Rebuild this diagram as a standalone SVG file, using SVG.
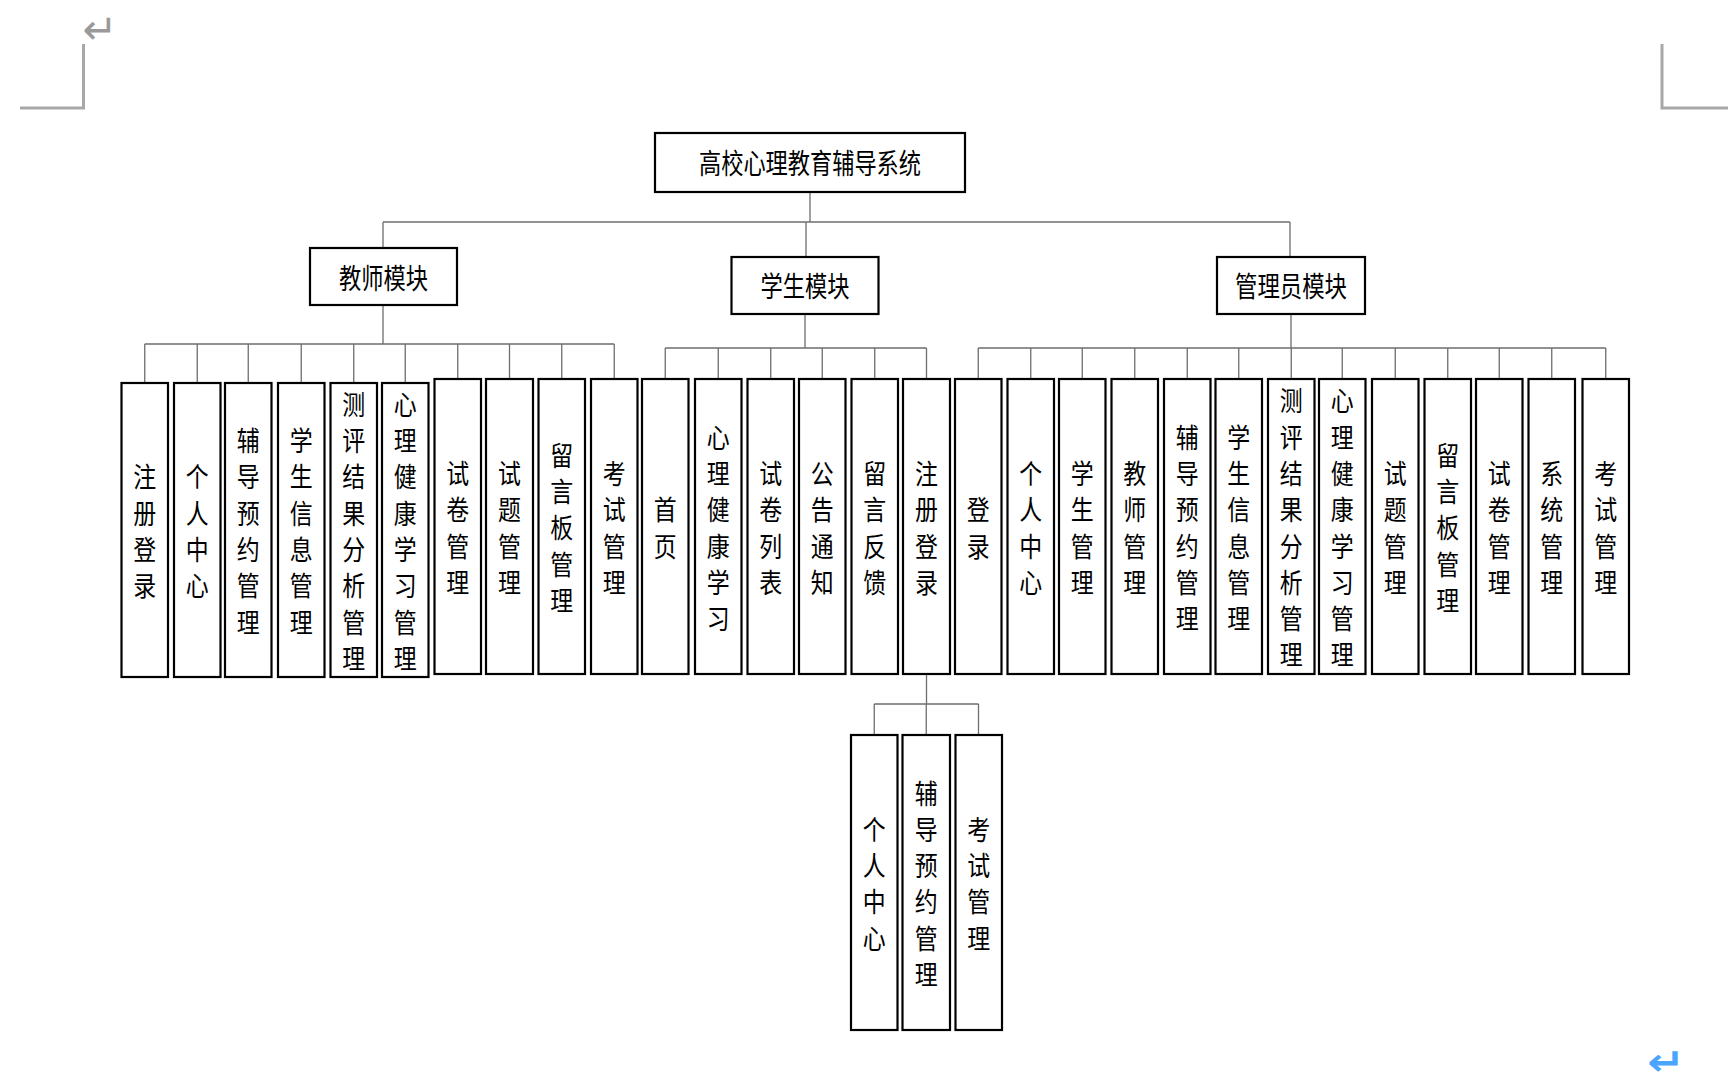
<svg xmlns="http://www.w3.org/2000/svg" width="1728" height="1084" viewBox="0 0 1728 1084">
<style>
.box{fill:#fff;stroke:#000;stroke-width:2.2}
.h{font-family:"Noto Sans CJK SC","Noto Sans CJK TC",sans-serif;font-size:28px;text-anchor:middle;dominant-baseline:central;fill:#000}
.v{font-family:"Noto Sans CJK SC","Noto Sans CJK TC",sans-serif;font-size:27px;text-anchor:middle;dominant-baseline:central;fill:#000}
.ln{fill:none;stroke:#6e6e6e;stroke-width:1.3}
.mark{fill:none;stroke:#a8a8a8;stroke-width:3}
</style>
<rect width="1728" height="1084" fill="#fff"/>
<g id="page-marks">
<path class="mark" d="M83.5 44V108H20"/>
<path class="mark" d="M1662 44V108H1728"/>
<text x="100" y="29.5" font-family="DejaVu Sans, sans-serif" font-size="42" fill="#9a9a9a" text-anchor="middle" dominant-baseline="central">↵</text>
<g transform="translate(1666 1062) scale(1.25 1.05)"><text x="0" y="0" font-family="DejaVu Sans, sans-serif" font-size="36" font-weight="bold" fill="#4aa5ff" text-anchor="middle" dominant-baseline="central">↵</text></g>
</g>
<g id="connectors">
<path class="ln" d="M810 192V222M383 222H1290M383 222V248M806 222V257M1290 222V257"/>
<path class="ln" d="M383 305V344M144.75 344H614.25M144.75 344V383M197.25 344V383M248.25 344V383M301.25 344V383M353.75 344V383M405.25 344V383M457.75 344V379M509.5 344V379M561.75 344V379M614.25 344V379"/>
<path class="ln" d="M805 314V348M665.25 348H926.5M665.25 348V379M718.25 348V379M770.75 348V379M822.25 348V379M874.75 348V379M926.5 348V379"/>
<path class="ln" d="M1291 314V348M978.25 348H1605.75M978.25 348V379M1030.75 348V379M1082.25 348V379M1134.75 348V379M1187.25 348V379M1238.75 348V379M1291.25 348V379M1342.25 348V379M1395.25 348V379M1447.75 348V379M1499.25 348V379M1551.75 348V379M1605.75 348V379"/>
<path class="ln" d="M926.5 674V704M874.25 704H978.5M874.25 704V735M926.25 704V735M978.5 704V735"/>
</g>
<g id="root"><rect class="box" x="655" y="133" width="310" height="59"/><text class="h" x="810" y="162" textLength="222" lengthAdjust="spacingAndGlyphs">高校心理教育辅导系统</text></g>
<g id="teacher"><rect class="box" x="310" y="248" width="147" height="57"/><text class="h" x="383.5" y="276.5" textLength="89" lengthAdjust="spacingAndGlyphs">教师模块</text></g>
<g id="student"><rect class="box" x="731.5" y="257" width="147" height="57"/><text class="h" x="805" y="285" textLength="89" lengthAdjust="spacingAndGlyphs">学生模块</text></g>
<g id="admin"><rect class="box" x="1217" y="257" width="148" height="57"/><text class="h" x="1291" y="285" textLength="112" lengthAdjust="spacingAndGlyphs">管理员模块</text></g>

<g id="t1"><rect class="box" x="121.5" y="383" width="46.5" height="294"/><g transform="translate(144.75 0) scale(0.85 1)"><text class="v" x="0" y="475.55"><tspan x="0">注</tspan><tspan x="0" dy="36.3">册</tspan><tspan x="0" dy="36.3">登</tspan><tspan x="0" dy="36.3">录</tspan></text></g></g>
<g id="t2"><rect class="box" x="174" y="383" width="46.5" height="294"/><g transform="translate(197.25 0) scale(0.85 1)"><text class="v" x="0" y="475.55"><tspan x="0">个</tspan><tspan x="0" dy="36.3">人</tspan><tspan x="0" dy="36.3">中</tspan><tspan x="0" dy="36.3">心</tspan></text></g></g>
<g id="t3"><rect class="box" x="225" y="383" width="46.5" height="294"/><g transform="translate(248.25 0) scale(0.85 1)"><text class="v" x="0" y="439.25"><tspan x="0">辅</tspan><tspan x="0" dy="36.3">导</tspan><tspan x="0" dy="36.3">预</tspan><tspan x="0" dy="36.3">约</tspan><tspan x="0" dy="36.3">管</tspan><tspan x="0" dy="36.3">理</tspan></text></g></g>
<g id="t4"><rect class="box" x="278" y="383" width="46.5" height="294"/><g transform="translate(301.25 0) scale(0.85 1)"><text class="v" x="0" y="439.25"><tspan x="0">学</tspan><tspan x="0" dy="36.3">生</tspan><tspan x="0" dy="36.3">信</tspan><tspan x="0" dy="36.3">息</tspan><tspan x="0" dy="36.3">管</tspan><tspan x="0" dy="36.3">理</tspan></text></g></g>
<g id="t5"><rect class="box" x="330.5" y="383" width="46.5" height="294"/><g transform="translate(353.75 0) scale(0.85 1)"><text class="v" x="0" y="402.95"><tspan x="0">测</tspan><tspan x="0" dy="36.3">评</tspan><tspan x="0" dy="36.3">结</tspan><tspan x="0" dy="36.3">果</tspan><tspan x="0" dy="36.3">分</tspan><tspan x="0" dy="36.3">析</tspan><tspan x="0" dy="36.3">管</tspan><tspan x="0" dy="36.3">理</tspan></text></g></g>
<g id="t6"><rect class="box" x="382" y="383" width="46.5" height="294"/><g transform="translate(405.25 0) scale(0.85 1)"><text class="v" x="0" y="402.95"><tspan x="0">心</tspan><tspan x="0" dy="36.3">理</tspan><tspan x="0" dy="36.3">健</tspan><tspan x="0" dy="36.3">康</tspan><tspan x="0" dy="36.3">学</tspan><tspan x="0" dy="36.3">习</tspan><tspan x="0" dy="36.3">管</tspan><tspan x="0" dy="36.3">理</tspan></text></g></g>
<g id="t7"><rect class="box" x="434.5" y="379" width="46.5" height="295"/><g transform="translate(457.75 0) scale(0.85 1)"><text class="v" x="0" y="472.05"><tspan x="0">试</tspan><tspan x="0" dy="36.3">卷</tspan><tspan x="0" dy="36.3">管</tspan><tspan x="0" dy="36.3">理</tspan></text></g></g>
<g id="t8"><rect class="box" x="486" y="379" width="47" height="295"/><g transform="translate(509.5 0) scale(0.85 1)"><text class="v" x="0" y="472.05"><tspan x="0">试</tspan><tspan x="0" dy="36.3">题</tspan><tspan x="0" dy="36.3">管</tspan><tspan x="0" dy="36.3">理</tspan></text></g></g>
<g id="t9"><rect class="box" x="538.5" y="379" width="46.5" height="295"/><g transform="translate(561.75 0) scale(0.85 1)"><text class="v" x="0" y="453.9"><tspan x="0">留</tspan><tspan x="0" dy="36.3">言</tspan><tspan x="0" dy="36.3">板</tspan><tspan x="0" dy="36.3">管</tspan><tspan x="0" dy="36.3">理</tspan></text></g></g>
<g id="t10"><rect class="box" x="591" y="379" width="46.5" height="295"/><g transform="translate(614.25 0) scale(0.85 1)"><text class="v" x="0" y="472.05"><tspan x="0">考</tspan><tspan x="0" dy="36.3">试</tspan><tspan x="0" dy="36.3">管</tspan><tspan x="0" dy="36.3">理</tspan></text></g></g>

<g id="s1"><rect class="box" x="642" y="379" width="46.5" height="295"/><g transform="translate(665.25 0) scale(0.85 1)"><text class="v" x="0" y="508.35"><tspan x="0">首</tspan><tspan x="0" dy="36.3">页</tspan></text></g></g>
<g id="s2"><rect class="box" x="695" y="379" width="46.5" height="295"/><g transform="translate(718.25 0) scale(0.85 1)"><text class="v" x="0" y="435.75"><tspan x="0">心</tspan><tspan x="0" dy="36.3">理</tspan><tspan x="0" dy="36.3">健</tspan><tspan x="0" dy="36.3">康</tspan><tspan x="0" dy="36.3">学</tspan><tspan x="0" dy="36.3">习</tspan></text></g></g>
<g id="s3"><rect class="box" x="747.5" y="379" width="46.5" height="295"/><g transform="translate(770.75 0) scale(0.85 1)"><text class="v" x="0" y="472.05"><tspan x="0">试</tspan><tspan x="0" dy="36.3">卷</tspan><tspan x="0" dy="36.3">列</tspan><tspan x="0" dy="36.3">表</tspan></text></g></g>
<g id="s4"><rect class="box" x="799" y="379" width="46.5" height="295"/><g transform="translate(822.25 0) scale(0.85 1)"><text class="v" x="0" y="472.05"><tspan x="0">公</tspan><tspan x="0" dy="36.3">告</tspan><tspan x="0" dy="36.3">通</tspan><tspan x="0" dy="36.3">知</tspan></text></g></g>
<g id="s5"><rect class="box" x="851.5" y="379" width="46.5" height="295"/><g transform="translate(874.75 0) scale(0.85 1)"><text class="v" x="0" y="472.05"><tspan x="0">留</tspan><tspan x="0" dy="36.3">言</tspan><tspan x="0" dy="36.3">反</tspan><tspan x="0" dy="36.3">馈</tspan></text></g></g>
<g id="s6"><rect class="box" x="903" y="379" width="47" height="295"/><g transform="translate(926.5 0) scale(0.85 1)"><text class="v" x="0" y="472.05"><tspan x="0">注</tspan><tspan x="0" dy="36.3">册</tspan><tspan x="0" dy="36.3">登</tspan><tspan x="0" dy="36.3">录</tspan></text></g></g>

<g id="a1"><rect class="box" x="955" y="379" width="46.5" height="295"/><g transform="translate(978.25 0) scale(0.85 1)"><text class="v" x="0" y="508.35"><tspan x="0">登</tspan><tspan x="0" dy="36.3">录</tspan></text></g></g>
<g id="a2"><rect class="box" x="1007.5" y="379" width="46.5" height="295"/><g transform="translate(1030.75 0) scale(0.85 1)"><text class="v" x="0" y="472.05"><tspan x="0">个</tspan><tspan x="0" dy="36.3">人</tspan><tspan x="0" dy="36.3">中</tspan><tspan x="0" dy="36.3">心</tspan></text></g></g>
<g id="a3"><rect class="box" x="1059" y="379" width="46.5" height="295"/><g transform="translate(1082.25 0) scale(0.85 1)"><text class="v" x="0" y="472.05"><tspan x="0">学</tspan><tspan x="0" dy="36.3">生</tspan><tspan x="0" dy="36.3">管</tspan><tspan x="0" dy="36.3">理</tspan></text></g></g>
<g id="a4"><rect class="box" x="1111.5" y="379" width="46.5" height="295"/><g transform="translate(1134.75 0) scale(0.85 1)"><text class="v" x="0" y="472.05"><tspan x="0">教</tspan><tspan x="0" dy="36.3">师</tspan><tspan x="0" dy="36.3">管</tspan><tspan x="0" dy="36.3">理</tspan></text></g></g>
<g id="a5"><rect class="box" x="1164" y="379" width="46.5" height="295"/><g transform="translate(1187.25 0) scale(0.85 1)"><text class="v" x="0" y="435.75"><tspan x="0">辅</tspan><tspan x="0" dy="36.3">导</tspan><tspan x="0" dy="36.3">预</tspan><tspan x="0" dy="36.3">约</tspan><tspan x="0" dy="36.3">管</tspan><tspan x="0" dy="36.3">理</tspan></text></g></g>
<g id="a6"><rect class="box" x="1215.5" y="379" width="46.5" height="295"/><g transform="translate(1238.75 0) scale(0.85 1)"><text class="v" x="0" y="435.75"><tspan x="0">学</tspan><tspan x="0" dy="36.3">生</tspan><tspan x="0" dy="36.3">信</tspan><tspan x="0" dy="36.3">息</tspan><tspan x="0" dy="36.3">管</tspan><tspan x="0" dy="36.3">理</tspan></text></g></g>
<g id="a7"><rect class="box" x="1268" y="379" width="46.5" height="295"/><g transform="translate(1291.25 0) scale(0.85 1)"><text class="v" x="0" y="399.45"><tspan x="0">测</tspan><tspan x="0" dy="36.3">评</tspan><tspan x="0" dy="36.3">结</tspan><tspan x="0" dy="36.3">果</tspan><tspan x="0" dy="36.3">分</tspan><tspan x="0" dy="36.3">析</tspan><tspan x="0" dy="36.3">管</tspan><tspan x="0" dy="36.3">理</tspan></text></g></g>
<g id="a8"><rect class="box" x="1319" y="379" width="46.5" height="295"/><g transform="translate(1342.25 0) scale(0.85 1)"><text class="v" x="0" y="399.45"><tspan x="0">心</tspan><tspan x="0" dy="36.3">理</tspan><tspan x="0" dy="36.3">健</tspan><tspan x="0" dy="36.3">康</tspan><tspan x="0" dy="36.3">学</tspan><tspan x="0" dy="36.3">习</tspan><tspan x="0" dy="36.3">管</tspan><tspan x="0" dy="36.3">理</tspan></text></g></g>
<g id="a9"><rect class="box" x="1372" y="379" width="46.5" height="295"/><g transform="translate(1395.25 0) scale(0.85 1)"><text class="v" x="0" y="472.05"><tspan x="0">试</tspan><tspan x="0" dy="36.3">题</tspan><tspan x="0" dy="36.3">管</tspan><tspan x="0" dy="36.3">理</tspan></text></g></g>
<g id="a10"><rect class="box" x="1424.5" y="379" width="46.5" height="295"/><g transform="translate(1447.75 0) scale(0.85 1)"><text class="v" x="0" y="453.9"><tspan x="0">留</tspan><tspan x="0" dy="36.3">言</tspan><tspan x="0" dy="36.3">板</tspan><tspan x="0" dy="36.3">管</tspan><tspan x="0" dy="36.3">理</tspan></text></g></g>
<g id="a11"><rect class="box" x="1476" y="379" width="46.5" height="295"/><g transform="translate(1499.25 0) scale(0.85 1)"><text class="v" x="0" y="472.05"><tspan x="0">试</tspan><tspan x="0" dy="36.3">卷</tspan><tspan x="0" dy="36.3">管</tspan><tspan x="0" dy="36.3">理</tspan></text></g></g>
<g id="a12"><rect class="box" x="1528.5" y="379" width="46.5" height="295"/><g transform="translate(1551.75 0) scale(0.85 1)"><text class="v" x="0" y="472.05"><tspan x="0">系</tspan><tspan x="0" dy="36.3">统</tspan><tspan x="0" dy="36.3">管</tspan><tspan x="0" dy="36.3">理</tspan></text></g></g>
<g id="a13"><rect class="box" x="1582.5" y="379" width="46.5" height="295"/><g transform="translate(1605.75 0) scale(0.85 1)"><text class="v" x="0" y="472.05"><tspan x="0">考</tspan><tspan x="0" dy="36.3">试</tspan><tspan x="0" dy="36.3">管</tspan><tspan x="0" dy="36.3">理</tspan></text></g></g>

<g id="r1"><rect class="box" x="851" y="735" width="46.5" height="295"/><g transform="translate(874.25 0) scale(0.85 1)"><text class="v" x="0" y="828.05"><tspan x="0">个</tspan><tspan x="0" dy="36.3">人</tspan><tspan x="0" dy="36.3">中</tspan><tspan x="0" dy="36.3">心</tspan></text></g></g>
<g id="r2"><rect class="box" x="902.5" y="735" width="47.5" height="295"/><g transform="translate(926.25 0) scale(0.85 1)"><text class="v" x="0" y="791.75"><tspan x="0">辅</tspan><tspan x="0" dy="36.3">导</tspan><tspan x="0" dy="36.3">预</tspan><tspan x="0" dy="36.3">约</tspan><tspan x="0" dy="36.3">管</tspan><tspan x="0" dy="36.3">理</tspan></text></g></g>
<g id="r3"><rect class="box" x="955.5" y="735" width="46.5" height="295"/><g transform="translate(978.75 0) scale(0.85 1)"><text class="v" x="0" y="828.05"><tspan x="0">考</tspan><tspan x="0" dy="36.3">试</tspan><tspan x="0" dy="36.3">管</tspan><tspan x="0" dy="36.3">理</tspan></text></g></g>
</svg>
